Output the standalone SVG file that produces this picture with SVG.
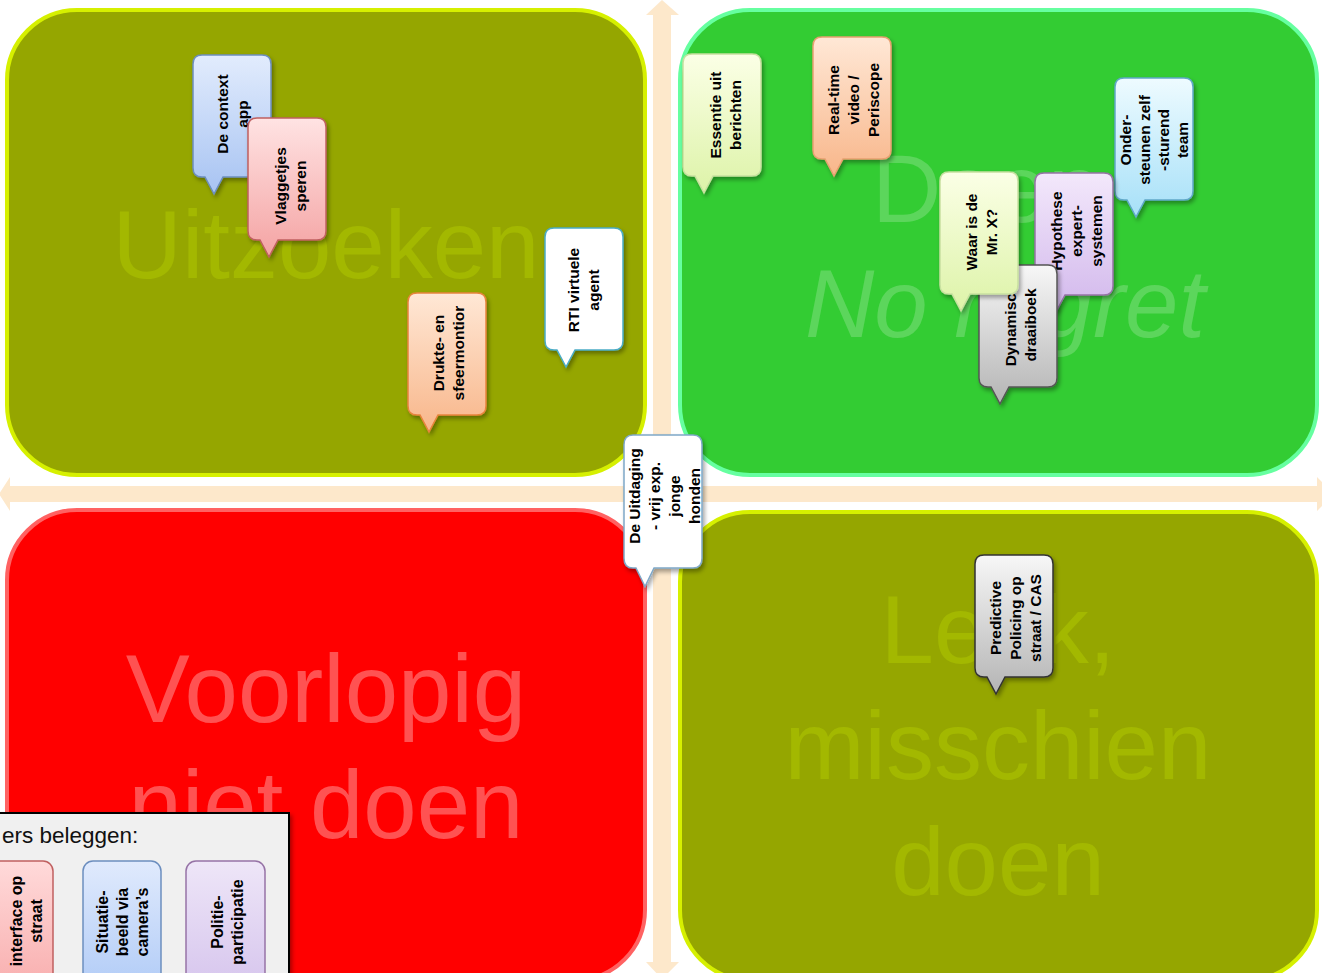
<svg xmlns="http://www.w3.org/2000/svg" xmlns:xlink="http://www.w3.org/1999/xlink" width="1322" height="973" viewBox="0 0 1322 973">
<style>
.q{stroke-width:4}
.big{font-family:"Liberation Sans",Arial,sans-serif;font-size:96px;text-anchor:middle}
.big.start{text-anchor:start}
.nt{font-family:"Liberation Sans",Arial,sans-serif;font-size:15.5px;font-weight:bold;fill:#000;text-anchor:middle}
.lt{font-family:"Liberation Sans",Arial,sans-serif;font-size:16px;font-weight:bold;fill:#000;text-anchor:middle}
.note{stroke-width:1.5;filter:url(#sh)}
.arrow{fill:#FDE8CB}
</style>
<defs>
<filter id="sh" x="-20%" y="-20%" width="150%" height="150%">
<feDropShadow dx="2" dy="3" stdDeviation="2" flood-color="#000" flood-opacity="0.35"/>
</filter>
<path id="note" d="M9,0 H69 Q78,0 78,9 V113 Q78,122 69,122 H30 L21,139 L12,122 H9 Q0,122 0,113 V9 Q0,0 9,0 Z"/>
<linearGradient id="gBlue" x1="0" y1="0" x2="0" y2="1"><stop offset="0" stop-color="#E2ECFD"/><stop offset="1" stop-color="#A7C3F2"/></linearGradient>
<linearGradient id="gPink" x1="0" y1="0" x2="0" y2="1"><stop offset="0" stop-color="#FFE3E3"/><stop offset="1" stop-color="#F4A3A3"/></linearGradient>
<linearGradient id="gLime" x1="0" y1="0" x2="0" y2="1"><stop offset="0" stop-color="#FBFFE6"/><stop offset="1" stop-color="#DDF3A8"/></linearGradient>
<linearGradient id="gPeach" x1="0" y1="0" x2="0" y2="1"><stop offset="0" stop-color="#FFE8D6"/><stop offset="1" stop-color="#F8B68A"/></linearGradient>
<linearGradient id="gLav" x1="0" y1="0" x2="0" y2="1"><stop offset="0" stop-color="#F3E8FB"/><stop offset="1" stop-color="#D2B8EC"/></linearGradient>
<linearGradient id="gGray" x1="0" y1="0" x2="0" y2="1"><stop offset="0" stop-color="#F7F7F7"/><stop offset="1" stop-color="#B4B4B4"/></linearGradient>
<linearGradient id="gCyan" x1="0" y1="0" x2="0" y2="1"><stop offset="0" stop-color="#EEFBFF"/><stop offset="1" stop-color="#A6E0F8"/></linearGradient>
<linearGradient id="gLegBlue" x1="0" y1="0" x2="0" y2="1"><stop offset="0" stop-color="#E0EAFD"/><stop offset="1" stop-color="#ADC9F6"/></linearGradient>
<linearGradient id="gLegPurple" x1="0" y1="0" x2="0" y2="1"><stop offset="0" stop-color="#EEE6F8"/><stop offset="1" stop-color="#D4C2EC"/></linearGradient>
<linearGradient id="gLegPink" x1="0" y1="0" x2="0" y2="1"><stop offset="0" stop-color="#FFDADA"/><stop offset="1" stop-color="#F8AAAA"/></linearGradient>
</defs>
<rect width="1322" height="973" fill="#FFFFFF"/>

<g id="axes">
<polygon class="arrow" points="662,0 679,15 671,15 671,962 679,962 662,979 646,962 653,962 653,15 646,15"/>
<polygon class="arrow" points="-1,494 10,477 10,486 1317,486 1317,477 1334,494 1317,511 1317,502 10,502 10,511"/>
</g>

<g id="q-uitzoeken">
<rect class="q" x="7" y="10" width="638" height="465" rx="70" fill="#95A600" stroke="#D6F000"/>
<text class="big" x="326" y="278" fill="#A3B800">Uitzoeken</text>
</g>
<g id="q-doen">
<rect class="q" x="680" y="10" width="637" height="465" rx="70" fill="#33CC33" stroke="#66FFA0"/>
<text class="big start" x="872" y="222" fill="#5CD65C">Doen</text>
<text class="big" x="1005" y="337" fill="#5CD65C" font-style="italic">No regret</text>
</g>
<g id="q-voorlopig">
<rect class="q" x="7" y="510" width="638" height="470" rx="70" fill="#FF0000" stroke="#FF6262"/>
<text class="big" x="326" y="722" fill="#FF5252">Voorlopig</text>
<text class="big" x="326" y="838" fill="#FF5252">niet doen</text>
</g>
<g id="q-leuk">
<rect class="q" x="680" y="512" width="637" height="468" rx="70" fill="#95A600" stroke="#D6F000"/>
<text class="big" x="998" y="663" fill="#A3B800">Leuk,</text>
<text class="big" x="998" y="779" fill="#A3B800">misschien</text>
<text class="big" x="998" y="895" fill="#A3B800">doen</text>
</g>

<g id="n-context">
<use href="#note" class="note" transform="translate(193,55)" fill="url(#gBlue)" stroke="#6C8EBF"/>
<text class="nt" transform="translate(232,114) rotate(-90)"><tspan x="0" y="-4.5">De context</tspan><tspan x="0" y="15.5">app</tspan></text>
</g>
<g id="n-vlaggetjes">
<use href="#note" class="note" transform="translate(248,118)" fill="url(#gPink)" stroke="#C06060"/>
<text class="nt" transform="translate(290,186) rotate(-90)"><tspan x="0" y="-4.5">Vlaggetjes</tspan><tspan x="0" y="15.5">speren</tspan></text>
</g>
<g id="n-drukte">
<use href="#note" class="note" transform="translate(408,293)" fill="url(#gPeach)" stroke="#E8843C"/>
<text class="nt" transform="translate(448,353) rotate(-90)"><tspan x="0" y="-4.5">Drukte- en</tspan><tspan x="0" y="15.5">sfeermontior</tspan></text>
</g>
<g id="n-rti">
<use href="#note" class="note" transform="translate(545,228)" fill="#FFFFFF" stroke="#4BACC6"/>
<text class="nt" transform="translate(583,290) rotate(-90)"><tspan x="0" y="-4.5">RTI virtuele</tspan><tspan x="0" y="15.5">agent</tspan></text>
</g>
<g id="n-essentie">
<use href="#note" class="note" transform="translate(683,54)" fill="url(#gLime)" stroke="#C8E0A0"/>
<text class="nt" transform="translate(725,115) rotate(-90)"><tspan x="0" y="-4.5">Essentie uit</tspan><tspan x="0" y="15.5">berichten</tspan></text>
</g>
<g id="n-realtime">
<use href="#note" class="note" transform="translate(813,37)" fill="url(#gPeach)" stroke="#E8A070"/>
<text class="nt" transform="translate(853,100) rotate(-90)"><tspan x="0" y="-14.5">Real-time</tspan><tspan x="0" y="5.5">video /</tspan><tspan x="0" y="25.5">Periscope</tspan></text>
</g>
<g id="n-onder">
<use href="#note" class="note" transform="translate(1115,78)" fill="url(#gCyan)" stroke="#60A8C8"/>
<text class="nt" transform="translate(1154,140) rotate(-90)"><tspan x="0" y="-23">Onder-</tspan><tspan x="0" y="-4">steunen zelf</tspan><tspan x="0" y="15">-sturend</tspan><tspan x="0" y="34">team</tspan></text>
</g>
<g id="n-hypothese">
<use href="#note" class="note" transform="translate(1035,173)" fill="url(#gLav)" stroke="#9673A6"/>
<text class="nt" transform="translate(1076,231) rotate(-90)"><tspan x="0" y="-14.5">Hypothese</tspan><tspan x="0" y="5.5">expert-</tspan><tspan x="0" y="25.5">systemen</tspan></text>
</g>
<g id="n-draaiboek">
<use href="#note" class="note" transform="translate(979,265)" fill="url(#gGray)" stroke="#555555"/>
<text class="nt" transform="translate(1020,325) rotate(-90)"><tspan x="0" y="-4.5">Dynamisch</tspan><tspan x="0" y="15.5">draaiboek</tspan></text>
</g>
<g id="n-waar">
<use href="#note" class="note" transform="translate(940,172)" fill="url(#gLime)" stroke="#C8E0A0"/>
<text class="nt" transform="translate(981,232) rotate(-90)"><tspan x="0" y="-4.5">Waar is de</tspan><tspan x="0" y="15.5">Mr. X?</tspan></text>
</g>
<g id="n-predictive">
<use href="#note" class="note" transform="translate(975,555)" fill="url(#gGray)" stroke="#333333"/>
<text class="nt" transform="translate(1015,618) rotate(-90)"><tspan x="0" y="-14.5">Predictive</tspan><tspan x="0" y="5.5">Policing op</tspan><tspan x="0" y="25.5">straat / CAS</tspan></text>
</g>
<g id="n-uitdaging">
<use href="#note" class="note" transform="translate(624,435) scale(1,1.09)" fill="#FFFFFF" stroke="#7FA8C8"/>
<text class="nt" transform="translate(664,496) rotate(-90)"><tspan x="0" y="-24.5">De Uitdaging</tspan><tspan x="0" y="-4.5">- vrij exp.</tspan><tspan x="0" y="15.5">jonge</tspan><tspan x="0" y="35.5">honden</tspan></text>
</g>

<g id="legend">
<rect x="-5" y="813" width="294" height="175" fill="#F0F0F0" stroke="#000000" stroke-width="2" filter="url(#sh)"/>
<text x="2" y="843" font-family="Liberation Sans, Arial, sans-serif" font-size="22.5" fill="#111111">ers beleggen:</text>
<g id="l-interface">
<rect x="-25" y="861" width="78" height="140" rx="10" fill="url(#gLegPink)" stroke="#C06060" stroke-width="1.5"/>
<text class="lt" transform="translate(26.5,921) rotate(-90)"><tspan x="0" y="-4.5">interface op</tspan><tspan x="0" y="15.5">straat</tspan></text>
</g>
<g id="l-situatie">
<rect x="83" y="861" width="78" height="140" rx="10" fill="url(#gLegBlue)" stroke="#6C8EBF" stroke-width="1.5"/>
<text class="lt" transform="translate(122,922) rotate(-90)"><tspan x="0" y="-14.5">Situatie-</tspan><tspan x="0" y="5.5">beeld via</tspan><tspan x="0" y="25.5">camera’s</tspan></text>
</g>
<g id="l-politie">
<rect x="186" y="861" width="79" height="140" rx="10" fill="url(#gLegPurple)" stroke="#9673A6" stroke-width="1.5"/>
<text class="lt" transform="translate(227,922) rotate(-90)"><tspan x="0" y="-4.5">Politie-</tspan><tspan x="0" y="15.5">participatie</tspan></text>
</g>
</g>
</svg>
